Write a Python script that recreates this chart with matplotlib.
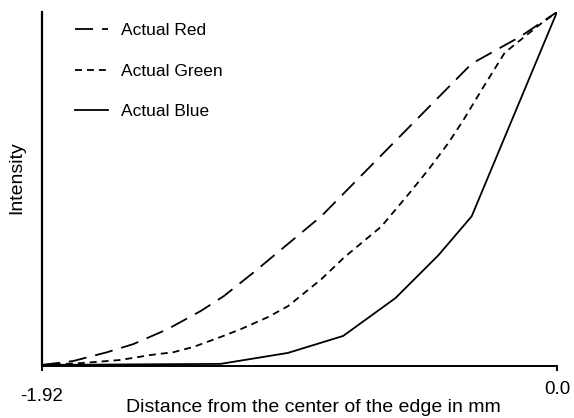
import numpy as np
import matplotlib
matplotlib.use("Agg")
import matplotlib.pyplot as plt

# valores (distância em mm, intensidade normalizada)
red_x = [-1.920, -1.804, -1.677, -1.579, -1.452, -1.329, -1.243, -1.130,
         -1.014, -0.879, -0.719, -0.550, -0.318, -0.138, 0.0]
red_y = [0.003, 0.014, 0.039, 0.062, 0.104, 0.155, 0.197, 0.265,
         0.338, 0.423, 0.546, 0.676, 0.854, 0.930, 1.0]

green_x = [-1.920, -1.778, -1.628, -1.516, -1.430, -1.355, -1.254, -1.179,
           -1.078, -1.003, -0.879, -0.793, -0.655, -0.554, -0.479, -0.404,
           -0.348, -0.281, -0.195, -0.067, 0.0]
green_y = [0.003, 0.008, 0.017, 0.031, 0.039, 0.054, 0.082, 0.104,
           0.138, 0.169, 0.245, 0.307, 0.394, 0.485, 0.555, 0.631,
           0.696, 0.780, 0.885, 0.963, 1.0]

blue_x = [-1.920, -1.254, -1.003, -0.797, -0.602, -0.442, -0.318, 0.0]
blue_y = [0.003, 0.006, 0.037, 0.085, 0.192, 0.313, 0.423, 1.0]

labels = ['Actual Red', 'Actual Green', 'Actual Blue']
xticks = [-1.92, 0.0]
xtick_labels = ['-1.92', '0.0']

plt.rcParams['font.family'] = ['Liberation Sans', 'DejaVu Sans']
plt.rcParams['lines.scale_dashes'] = False

fig = plt.figure(figsize=(5.74, 4.18), dpi=100)
ax = fig.add_axes([42 / 574, 1 - 366 / 418, 515 / 574, 354 / 418])

ax.plot(red_x, red_y, color='black', lw=1.3, linestyle=(0, (13, 6.5)), label=labels[0])
ax.plot(green_x, green_y, color='black', lw=1.3, linestyle=(0, (5, 3.6)), label=labels[1])
ax.plot(blue_x, blue_y, color='black', lw=1.3, linestyle='-', label=labels[2])

ax.set_xlim(-1.92, 0.0)
ax.set_ylim(0, 1)

for s in ['top', 'right']:
    ax.spines[s].set_visible(False)
ax.spines['left'].set_linewidth(1.6)
ax.spines['bottom'].set_linewidth(1.4)

ax.set_yticks([])
ax.set_xticks(xticks)
ax.set_xticklabels(xtick_labels, fontsize=13.5)
ax.tick_params(axis='x', direction='out', width=1.4)
ticks = ax.xaxis.get_major_ticks()
ticks[0].tick1line.set_markersize(10)
ticks[0].set_pad(12.5)
ticks[1].tick1line.set_markersize(6)
ticks[1].set_pad(7)

ax.set_xlabel('Distance from the center of the edge in mm', fontsize=14)
ax.xaxis.set_label_coords(0.527, -0.094)
ax.set_ylabel('Intensity', fontsize=14)
ax.yaxis.set_label_coords(-0.033, 0.532)

ax.legend(loc='upper left', bbox_to_anchor=(0.064, 0.968), frameon=False,
          fontsize=12.5, handlelength=1.9, handletextpad=0.75,
          labelspacing=1.45, borderaxespad=0, borderpad=0)

fig.savefig('out.png', dpi=100)
